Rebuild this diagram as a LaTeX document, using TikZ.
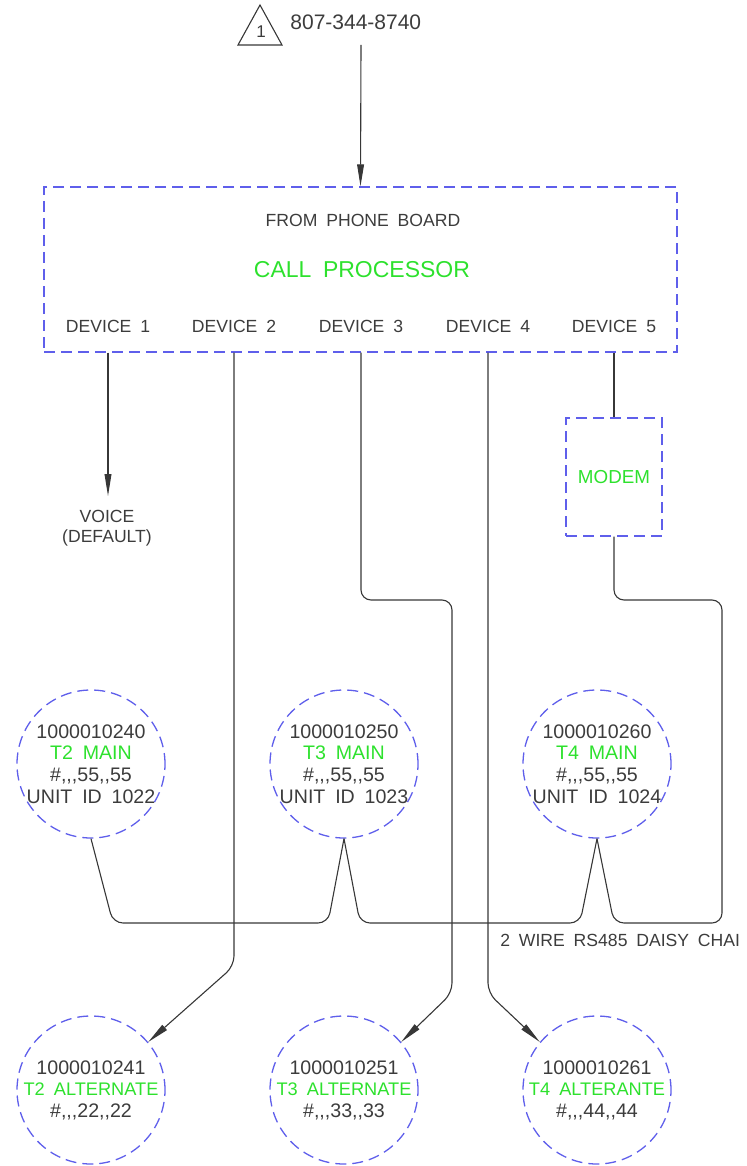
\documentclass[tikz,border=0pt]{standalone}
\usepackage{fontspec}
\setmainfont{Liberation Sans}[WordSpace=1.8, Ligatures=TeXOff]
\usetikzlibrary{arrows.meta}
\definecolor{cadblue}{RGB}{95,95,235}
\definecolor{cadgreen}{RGB}{45,225,45}
\definecolor{cadtext}{RGB}{60,60,60}
\definecolor{cadline}{RGB}{55,55,55}
\begin{document}
\begin{tikzpicture}[x=0.5pt,y=-0.5pt,
  wire/.style={draw=cadline, line width=0.55pt, rounded corners=5pt},
  arr/.style={-{Triangle[length=11pt,width=3.4pt]}},
  dashbox/.style={draw=cadblue, line width=0.65pt, dash pattern=on 5.5pt off 3pt},
  circ/.style={dashbox, circle, minimum size=74pt, inner sep=0pt},
  ctext/.style={align=center, inner sep=0pt, text=cadtext, font=\fontsize{9.8}{10.8}\selectfont},
  lbl/.style={text=cadtext, inner sep=0pt, font=\fontsize{8.8}{10.5}\selectfont},
  grn/.style={text=cadgreen}
]
\useasboundingbox (0,0) rectangle (746,1166);

% phone reference
\coordinate (ta) at (260,5);
\coordinate (tl) at (238,45);
\coordinate (tr) at (282,45);
\draw[draw=cadline, line width=0.55pt] (ta) -- (tl) -- (tr) -- cycle;
\node[lbl, font=\fontsize{8.5}{9}\selectfont] (tn) at (261,32) {1};
\node[lbl, font=\fontsize{10.5}{12}\selectfont, anchor=west] (phone) at (290,22) {807-344-8740};
\coordinate (ph) at (361,45);

% call processor box
\node[dashbox, rectangle, minimum width=316.5pt, minimum height=82.5pt, inner sep=0pt] (cp) at (360.5,269.5) {};
\node[lbl] (fpb) at (363,220) {FROM PHONE BOARD};
\node[lbl, grn, font=\fontsize{11.5}{13}\selectfont] (cpt) at (362,270) {CALL PROCESSOR};
\node[lbl] (d1) at (108,326) {DEVICE 1};
\node[lbl] (d2) at (234,326) {DEVICE 2};
\node[lbl] (d3) at (361,326) {DEVICE 3};
\node[lbl] (d4) at (488,326) {DEVICE 4};
\node[lbl] (d5) at (614,326) {DEVICE 5};

\draw[wire, arr] (ph) -- (cp.north);

% modem
\node[dashbox, rectangle, minimum width=48pt, minimum height=59pt, inner sep=0pt] (modem) at (614,477) {};
\node[lbl, grn, font=\fontsize{9.4}{11}\selectfont] (modemt) at (614,477) {MODEM};

% voice
\node[lbl, align=center, font=\fontsize{8.8}{10}\selectfont] (voice) at (107,528) {VOICE\\(DEFAULT)};
\coordinate (vtip) at (108,496);

% main units
\node[circ] (t2m) at (91,764) {};
\node[circ] (t3m) at (344,764) {};
\node[circ] (t4m) at (597,764) {};
\node[ctext] (t2mt) at (t2m) {1000010240\\\textcolor{cadgreen}{T2 MAIN}\\\#,,,55,,55\\UNIT ID 1022};
\node[ctext] (t3mt) at (t3m) {1000010250\\\textcolor{cadgreen}{T3 MAIN}\\\#,,,55,,55\\UNIT ID 1023};
\node[ctext] (t4mt) at (t4m) {1000010260\\\textcolor{cadgreen}{T4 MAIN}\\\#,,,55,,55\\UNIT ID 1024};

% alternate units
\node[circ] (t2a) at (91,1090) {};
\node[circ] (t3a) at (344,1090) {};
\node[circ] (t4a) at (597,1090) {};
\node[ctext] (t2at) at (t2a) {1000010241\\{\fontsize{9.1}{10.8}\selectfont\color{cadgreen}T2 ALTERNATE}\\\#,,,22,,22};
\node[ctext] (t3at) at (t3a) {1000010251\\{\fontsize{9.1}{10.8}\selectfont\color{cadgreen}T3 ALTERNATE}\\\#,,,33,,33};
\node[ctext] (t4at) at (t4a) {1000010261\\{\fontsize{9.1}{10.8}\selectfont\color{cadgreen}T4 ALTERANTE}\\\#,,,44,,44};

% device connectors
\draw[wire, arr] (cp.south -| d1) -- (vtip);
\draw[wire, arr] (cp.south -| d2) -- (234,966) -- (t2a.40);
\draw[wire, arr] (cp.south -| d3) -- (361,600) -- (452,600) -- (452,993) -- (t3a.40);
\draw[wire, arr] (cp.south -| d4) -- (488,993) -- (t4a.140);
\draw[wire] (cp.south -| d5) -- (modem.north);

% daisy chain
\draw[wire] (t2m.south) -- (113,923) -- (328,923) -- (t3m.south);
\draw[wire] (t3m.south) -- (360,923) -- (580,923) -- (t4m.south);
\draw[wire] (t4m.south) -- (614,923) -- (722,923) -- (722,600) -- (614,600) -- (modem.south);

\node[lbl, anchor=west] (rs) at (500,940) {2 WIRE RS485 DAISY CHAI};
\end{tikzpicture}
\end{document}
